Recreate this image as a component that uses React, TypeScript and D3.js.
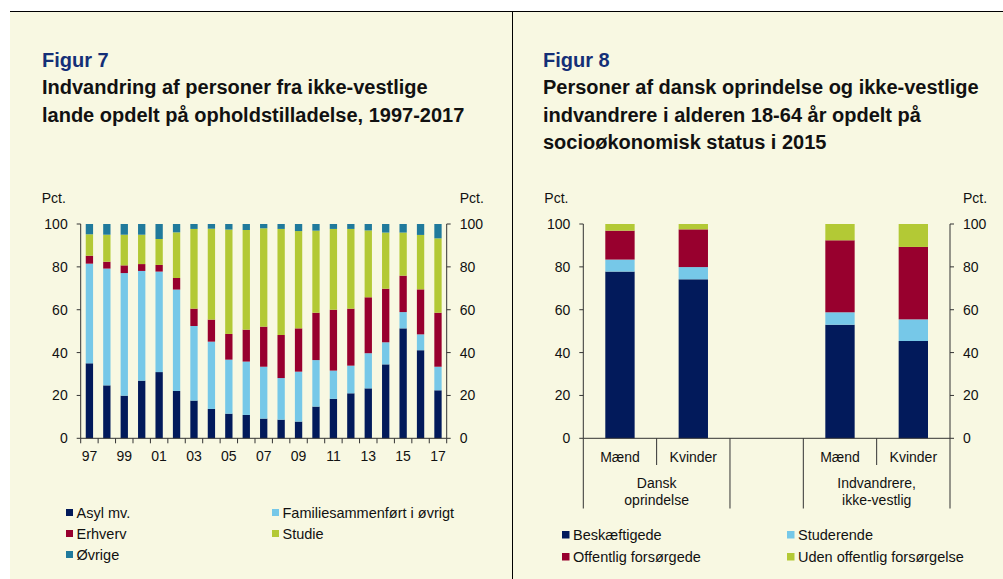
import { useRef, useEffect } from 'react';
import * as d3 from 'd3';

// ---------------------------------------------------------------------------
// Data — Figur 7 (pct. of immigrants from non-western countries, by permit)
// ---------------------------------------------------------------------------

const YEARS = ['97', '98', '99', '00', '01', '02', '03', '04', '05', '06', '07',
  '08', '09', '10', '11', '12', '13', '14', '15', '16', '17'];
const YEAR_LABELS = ['97', '99', '01', '03', '05', '07', '09', '11', '13', '15', '17'];

const ASYL = [35.0, 24.7, 19.9, 26.9, 30.9, 22.1, 17.6, 13.7, 11.5, 10.9, 9.2,
  8.7, 7.8, 14.8, 18.4, 21.0, 23.3, 34.5, 51.3, 41.1, 22.4];
const FAMILIE = [46.5, 54.5, 57.2, 51.2, 46.9, 47.3, 34.8, 31.4, 25.2, 24.9, 24.2,
  19.4, 23.3, 21.7, 13.2, 12.9, 16.4, 10.3, 7.6, 7.4, 11.0];
const ERHVERV = [3.7, 3.2, 3.6, 3.2, 3.1, 5.4, 8.1, 10.3, 12.0, 14.9, 18.7,
  20.1, 20.2, 22.1, 28.4, 26.6, 26.1, 25.0, 17.0, 21.0, 25.2];
const STUDIE = [10.0, 12.6, 14.3, 13.7, 12.1, 21.3, 37.2, 42.4, 48.7, 46.5, 45.9,
  49.5, 45.4, 38.3, 37.7, 37.2, 31.2, 26.2, 20.1, 25.4, 34.7];
const OVRIGE = [4.8, 5.0, 5.0, 5.0, 7.0, 3.9, 2.3, 2.2, 2.6, 2.8, 2.0,
  2.3, 3.3, 3.1, 2.3, 2.3, 3.0, 4.0, 4.0, 5.1, 6.7];

const FIG7_KEYS = ['Asyl mv.', 'Familiesammenført i øvrigt', 'Erhverv', 'Studie', 'Øvrige'];
const FIG7_SERIES = [ASYL, FAMILIE, ERHVERV, STUDIE, OVRIGE];

// ---------------------------------------------------------------------------
// Data — Figur 8 (socio-economic status 2015, 18-64 years)
// ---------------------------------------------------------------------------

const GROUP_SLOTS = ['dm', 'dk', 'gap', 'im', 'ik'];
const SLOT_LABELS = ['Mænd', 'Kvinder', '', 'Mænd', 'Kvinder'];
const BAR_SLOTS = ['dm', 'dk', 'im', 'ik'];
const BESKAEFTIGEDE = [77.8, 74.2, 53.0, 45.4];
const STUDERENDE = [5.6, 5.7, 5.8, 10.1];
const OFFENTLIG = [13.5, 17.6, 33.6, 33.8];
const UDEN = [3.1, 2.5, 7.6, 10.7];

const FIG8_KEYS = ['Beskæftigede', 'Studerende', 'Offentlig forsørgede', 'Uden offentlig forsørgelse'];
const FIG8_SERIES = [BESKAEFTIGEDE, STUDERENDE, OFFENTLIG, UDEN];

const Y_TICKS = [0, 20, 40, 60, 80, 100];

// ---------------------------------------------------------------------------
// Colors
// ---------------------------------------------------------------------------

const NAVY = '#021a5b';
const LIGHT_BLUE = '#76c8e8';
const RED = '#98002e';
const GREEN = '#b3c935';
const TEAL = '#207a9c';
const BG = '#f8f8e2';
const AXIS = '#333333';
const FIG_BLUE = '#142f77';
const FONT = '"Liberation Sans", Arial, Helvetica, sans-serif';

const FIG7_COLORS = [NAVY, LIGHT_BLUE, RED, GREEN, TEAL];
const FIG8_COLORS = [NAVY, LIGHT_BLUE, RED, GREEN];

type Sel = d3.Selection<SVGGElement, unknown, null, undefined>;

function addText(g: Sel, x: number, y: number, txt: string, opts: {
  size?: number; anchor?: string; weight?: string; fill?: string;
} = {}) {
  g.append('text')
    .attr('x', x)
    .attr('y', y)
    .attr('text-anchor', opts.anchor ?? 'start')
    .attr('font-size', `${opts.size ?? 14}px`)
    .attr('font-weight', opts.weight ?? 'normal')
    .attr('fill', opts.fill ?? '#111')
    .text(txt);
}

function drawYAxes(g: Sel, y: d3.ScaleLinear<number, number>, left: number, right: number) {
  [left, right].forEach((ax) => {
    g.append('line')
      .attr('x1', ax).attr('x2', ax)
      .attr('y1', y(0)).attr('y2', y(100))
      .attr('stroke', AXIS);
  });
  Y_TICKS.forEach((t) => {
    g.append('line').attr('x1', left - 4).attr('x2', left).attr('y1', y(t)).attr('y2', y(t)).attr('stroke', AXIS);
    g.append('line').attr('x1', right).attr('x2', right + 4).attr('y1', y(t)).attr('y2', y(t)).attr('stroke', AXIS);
    addText(g, left - 13, y(t) + 5, String(t), { anchor: 'end' });
    addText(g, right + 13, y(t) + 5, String(t));
  });
  addText(g, left - 39, 203, 'Pct.');
  addText(g, right + 13, 203, 'Pct.');
}

export default function App() {
  const svgRef = useRef<SVGSVGElement>(null);

  useEffect(() => {
    if (!svgRef.current) return;
    const svg = d3.select(svgRef.current);
    svg.selectAll('*').remove();
    svg.attr('font-family', FONT);

    // Panels
    svg.append('rect').attr('x', 10).attr('y', 11).attr('width', 993).attr('height', 568).attr('fill', BG);
    svg.append('line').attr('x1', 10).attr('x2', 1003).attr('y1', 11.5).attr('y2', 11.5).attr('stroke', '#000');
    svg.append('line').attr('x1', 512.5).attr('x2', 512.5).attr('y1', 11).attr('y2', 579).attr('stroke', '#000');

    const root = svg.append('g') as unknown as Sel;

    // Titles
    addText(root, 42, 67, 'Figur 7', { size: 20, weight: 'bold', fill: FIG_BLUE });
    addText(root, 42, 94, 'Indvandring af personer fra ikke-vestlige', { size: 20, weight: 'bold' });
    addText(root, 42, 122, 'lande opdelt på opholdstilladelse, 1997-2017', { size: 20, weight: 'bold' });

    addText(root, 543, 67, 'Figur 8', { size: 20, weight: 'bold', fill: FIG_BLUE });
    addText(root, 543, 94, 'Personer af dansk oprindelse og ikke-vestlige', { size: 20, weight: 'bold' });
    addText(root, 543, 122, 'indvandrere i alderen 18-64 år opdelt på', { size: 20, weight: 'bold' });
    addText(root, 543, 149, 'socioøkonomisk status i 2015', { size: 20, weight: 'bold' });

    const y = d3.scaleLinear().domain([0, 100]).range([438.3, 224]);

    // ---------------- Figur 7 ----------------
    const x7 = d3.scaleBand<string>()
      .domain(YEARS)
      .range([80.7, 446.7])
      .paddingInner(0.58)
      .paddingOuter(0.29);

    const rows7 = YEARS.map((yr, i) => {
      const r: Record<string, number | string> = { year: yr };
      FIG7_KEYS.forEach((k, j) => { r[k] = FIG7_SERIES[j][i]; });
      return r;
    });
    const stack7 = d3.stack<Record<string, number | string>>().keys(FIG7_KEYS)(rows7);

    stack7.forEach((layer, j) => {
      root.append('g')
        .selectAll('rect')
        .data(layer)
        .join('rect')
        .attr('x', (d) => x7(String(d.data.year)) as number)
        .attr('width', x7.bandwidth())
        .attr('y', (d) => y(d[1]))
        .attr('height', (d) => y(d[0]) - y(d[1]))
        .attr('fill', FIG7_COLORS[j]);
    });

    drawYAxes(root, y, 80.7, 446.7);
    root.append('line').attr('x1', 80.7).attr('x2', 446.7).attr('y1', y(0)).attr('y2', y(0)).attr('stroke', AXIS);
    const step7 = x7.step();
    d3.range(YEARS.length + 1).forEach((i) => {
      const xx = 80.7 + i * step7;
      root.append('line').attr('x1', xx).attr('x2', xx).attr('y1', y(0)).attr('y2', y(0) + 5).attr('stroke', AXIS);
    });
    YEAR_LABELS.forEach((lab) => {
      addText(root, (x7(lab) as number) + x7.bandwidth() / 2, 461, lab, { anchor: 'middle' });
    });

    // Legend 7
    const leg7 = [
      { x: 66, y: 513 }, { x: 272, y: 513 },
      { x: 66, y: 534 }, { x: 272, y: 534 },
      { x: 66, y: 555 },
    ];
    FIG7_KEYS.forEach((k, j) => {
      root.append('rect').attr('x', leg7[j].x).attr('y', leg7[j].y - 4).attr('width', 7).attr('height', 7).attr('fill', FIG7_COLORS[j]);
      addText(root, leg7[j].x + 10.5, leg7[j].y + 5, k, { size: 14.5 });
    });

    // ---------------- Figur 8 ----------------
    const x8 = d3.scaleBand<string>()
      .domain(GROUP_SLOTS)
      .range([583.3, 950])
      .paddingInner(0.6)
      .paddingOuter(0.3);

    const rows8 = BAR_SLOTS.map((s, i) => {
      const r: Record<string, number | string> = { slot: s };
      FIG8_KEYS.forEach((k, j) => { r[k] = FIG8_SERIES[j][i]; });
      return r;
    });
    const stack8 = d3.stack<Record<string, number | string>>().keys(FIG8_KEYS)(rows8);

    stack8.forEach((layer, j) => {
      root.append('g')
        .selectAll('rect')
        .data(layer)
        .join('rect')
        .attr('x', (d) => x8(String(d.data.slot)) as number)
        .attr('width', x8.bandwidth())
        .attr('y', (d) => y(d[1]))
        .attr('height', (d) => y(d[0]) - y(d[1]))
        .attr('fill', FIG8_COLORS[j]);
    });

    drawYAxes(root, y, 583.3, 950);
    root.append('line').attr('x1', 583.3).attr('x2', 950).attr('y1', y(0)).attr('y2', y(0)).attr('stroke', AXIS);

    const step8 = x8.step();
    const edge = (i: number) => 583.3 + i * step8;
    // category separators: long at group edges, short within groups
    [0, 2, 3, 5].forEach((i) => {
      root.append('line').attr('x1', edge(i)).attr('x2', edge(i)).attr('y1', y(0)).attr('y2', 508.5).attr('stroke', AXIS);
    });
    [1, 4].forEach((i) => {
      root.append('line').attr('x1', edge(i)).attr('x2', edge(i)).attr('y1', y(0)).attr('y2', 465).attr('stroke', AXIS);
    });
    GROUP_SLOTS.forEach((s, i) => {
      if (!SLOT_LABELS[i]) return;
      addText(root, (x8(s) as number) + x8.bandwidth() / 2, 462, SLOT_LABELS[i], { anchor: 'middle' });
    });
    addText(root, edge(1), 488, 'Dansk', { anchor: 'middle' });
    addText(root, edge(1), 505, 'oprindelse', { anchor: 'middle' });
    addText(root, edge(4), 488, 'Indvandrere,', { anchor: 'middle' });
    addText(root, edge(4), 505, 'ikke-vestlig', { anchor: 'middle' });

    // Legend 8
    const leg8 = [
      { x: 562, y: 535 }, { x: 787, y: 535 },
      { x: 562, y: 557 }, { x: 787, y: 557 },
    ];
    FIG8_KEYS.forEach((k, j) => {
      root.append('rect').attr('x', leg8[j].x).attr('y', leg8[j].y - 4).attr('width', 7.5).attr('height', 7.5).attr('fill', FIG8_COLORS[j]);
      addText(root, leg8[j].x + 11, leg8[j].y + 5, k, { size: 14.5 });
    });
  }, []);

  return (
    <div style={{ position: 'absolute', left: 0, top: 0 }}>
      <svg ref={svgRef} width={1003} height={579} style={{ display: 'block', background: '#fff' }} />
    </div>
  );
}
